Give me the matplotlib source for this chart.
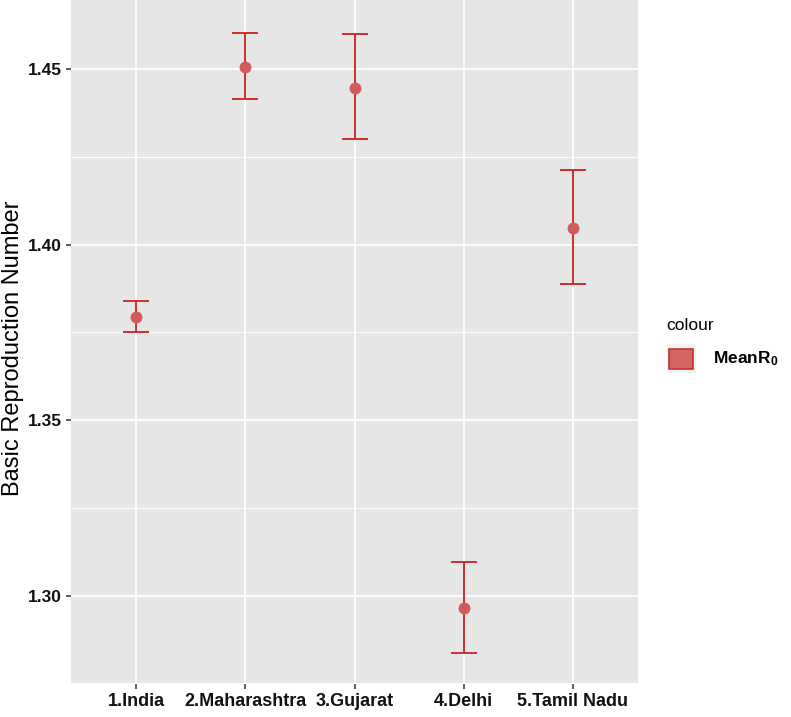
import matplotlib
matplotlib.use("Agg")
import matplotlib.pyplot as plt
import numpy as np
from matplotlib.ticker import FixedLocator
from matplotlib.patches import Rectangle

plt.rcParams['font.family'] = ['Liberation Sans', 'DejaVu Sans']
plt.rcParams['mathtext.fontset'] = 'custom'
plt.rcParams['mathtext.rm'] = 'Liberation Sans'
plt.rcParams['mathtext.bf'] = 'Liberation Sans:bold'

# Data
regions = ["1.India", "2.Maharashtra", "3.Gujarat", "4.Delhi", "5.Tamil Nadu"]
mean_r0 = [1.3793, 1.4506, 1.4447, 1.2965, 1.4048]
lower_r0 = [1.3750, 1.4415, 1.4300, 1.2836, 1.3889]
upper_r0 = [1.3838, 1.4603, 1.4601, 1.3096, 1.4214]
y_ticks = [1.30, 1.35, 1.40, 1.45]

line_col = '#CC3030'
point_col = '#D35A5A'

W, H = 791, 717
fig = plt.figure(figsize=(W / 100, H / 100), dpi=100)
ax = fig.add_axes([71 / W, 33 / H, 567 / W, 684 / H])
ax.set_facecolor('#E6E6E6')
for s in ax.spines.values():
    s.set_visible(False)

x = np.arange(1, len(regions) + 1)
mean = np.array(mean_r0)
lo = np.array(lower_r0)
hi = np.array(upper_r0)

ax.errorbar(x, mean, yerr=[mean - lo, hi - mean], fmt='none', ecolor=line_col,
            elinewidth=1.4, capsize=9.7, capthick=1.4, zorder=3)
ax.scatter(x, mean, s=65, color=point_col, edgecolor=point_col, linewidth=0.5, zorder=4)

ax.set_xlim(0.4, 5.6)
ax.set_ylim(1.2748, 1.4697)
ax.set_xticks(x)
ax.set_xticklabels(regions, fontweight='bold', fontsize=13)
ax.yaxis.set_major_locator(FixedLocator(y_ticks))
ax.set_yticklabels([f"{t:.2f}" for t in y_ticks], fontweight='bold', fontsize=12.5)
ax.yaxis.set_minor_locator(FixedLocator([1.275, 1.325, 1.375, 1.425]))

ax.grid(which='major', color='white', linewidth=1.3)
ax.grid(which='minor', axis='y', color='white', linewidth=0.7)
ax.set_axisbelow(True)
ax.tick_params(which='major', length=3.5, width=1.1, color='#333333',
               labelcolor='#111111', pad=3)
ax.tick_params(which='minor', length=0)

fig.text(13 / W, 1 - 348 / H, "Basic Reproduction Number", rotation=90,
         ha='center', va='center', fontsize=17, color='black')

# Legend (manual)
fig.text(666 / W, 1 - 325 / H, "colour", ha='left', va='center', fontsize=12.5, color='black')
fig.patches.append(Rectangle((667 / W, 1 - 373 / H), 29 / W, 29 / H, transform=fig.transFigure,
                             facecolor='#F2F2F2', edgecolor='none'))
fig.patches.append(Rectangle((669 / W, 1 - 369 / H), 24 / W, 20 / H, transform=fig.transFigure,
                             facecolor='#D46464', edgecolor='#C83030', linewidth=1.2))
fig.text(713 / W, 1 - 359 / H, r"$\mathbf{MeanR_0}$", ha='left', va='center', fontsize=12.5, color='black')

fig.savefig("out.png", dpi=100)
